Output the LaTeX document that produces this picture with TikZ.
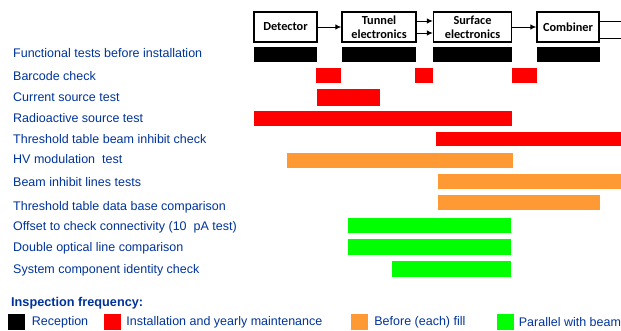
\documentclass[tikz,border=0pt]{standalone}
\usepackage{fontspec}
\setmainfont{Liberation Sans}
\newfontfamily\boxfont{Carlito}
\usetikzlibrary{positioning, arrows.meta}

\definecolor{lblue}{RGB}{0,51,153}
\definecolor{tred}{RGB}{255,0,0}
\definecolor{torange}{RGB}{255,153,51}
\definecolor{tgreen}{RGB}{0,255,0}

\tikzset{
  stage/.style={draw, line width=1.3pt, minimum height=30pt, inner sep=0pt, align=center,
    font=\boxfont\bfseries\fontsize{12.3}{14}\selectfont},
  lbl/.style={anchor=base west, inner sep=0pt, text=lblue, font=\fontsize{12.5}{15}\selectfont},
  key/.style={minimum width=17pt, minimum height=16pt, inner sep=0pt},
}

\begin{document}
\begin{tikzpicture}[x=1pt, y=-1pt, >={Latex[length=6pt, width=5.5pt]}]
            \useasboundingbox (0,0) rectangle (621,330);

            % Chain of stages
            \node[stage, minimum width=63pt] (det) at (285.5,27) {Detector};
            \node[stage, minimum width=74pt] (tun) at (379,27) {Tunnel\\electronics};
            \node[stage, minimum width=78pt] (surf) at (472.5,27) {Surface\\electronics};
            \node[stage, minimum width=62pt] (comb) at (568,27) {Combiner};

            % Links between stages
            \draw[->, line width=1pt] (det) -- (tun);
            \draw[->, line width=1pt] ([yshift=6pt]tun.east) -- ([yshift=6pt]surf.west);
            \draw[->, line width=1pt] ([yshift=-6pt]tun.east) -- ([yshift=-6pt]surf.west);
            \draw[->, line width=1pt] (surf) -- (comb);
            \coordinate (out1) at (621,21);
            \coordinate (out2) at (621,38);
            \draw[line width=1pt] (comb.east |- out1) -- (out1);
            \draw[line width=1pt] (comb.east |- out2) -- (out2);

            % Test names
            \foreach \yy/\txt [count=\i] in {57.8/Functional tests before installation,
                80.5/Barcode check, 101.8/Current source test, 122.8/Radioactive source test,
                143.5/Threshold table beam inhibit check, 163.8/HV modulation~ test,
                186.8/Beam inhibit lines tests, 210.5/Threshold table data base comparison,
                230.2/Offset to check connectivity (10~ pA test),
                251.2/Double optical line comparison, 273.2/System component identity check}
            {
                \node[lbl] (test-\i) at (13,\yy) {\txt};
            }

            % Reception
            \foreach \xa/\xb in {254/317, 342/416, 433/512, 537/600}
            {
                \fill[black] (\xa,47) rectangle (\xb,62);
            }
            % Installation and yearly maintenance
            \foreach \xa/\ya/\xb/\yb in {316/68/341/83, 415/68/433/83, 512/68/537/83,
                317/89/380/105.7, 254/111/512/125.7, 436/132/621/145.7}
            {
                \fill[tred] (\xa,\ya) rectangle (\xb,\yb);
            }
            % Before (each) fill
            \foreach \xa/\ya/\xb/\yb in {287/153/513/167.7, 438/174/621/188.7, 438/195/600/209.7}
            {
                \fill[torange] (\xa,\ya) rectangle (\xb,\yb);
            }
            % Parallel with beam
            \foreach \xa/\ya/\xb/\yb in {348/218/511/232.7, 348/239/511/254.7, 392/261/511/276.7}
            {
                \fill[tgreen] (\xa,\ya) rectangle (\xb,\yb);
            }

            % Legend
            \node[lbl, font=\bfseries\fontsize{12.7}{14}\selectfont] (freq) at (11,306) {Inspection frequency:};
            \node[key, fill=black] (k-rec) at (16,322) {};
            \node[lbl, right=7pt of k-rec] (t-rec) {Reception};
            \node[key, fill=tred] (k-inst) at (112,322) {};
            \node[lbl, right=5.5pt of k-inst] (t-inst) {Installation and yearly maintenance};
            \node[key, fill=torange] (k-fill) at (359.5,322) {};
            \node[lbl, right=6pt of k-fill] (t-fill) {Before (each) fill};
            \node[key, fill=tgreen] (k-beam) at (505,322) {};
            \node[lbl, right=5pt of k-beam] (t-beam) {Parallel with beam};
\end{tikzpicture}
\end{document}
